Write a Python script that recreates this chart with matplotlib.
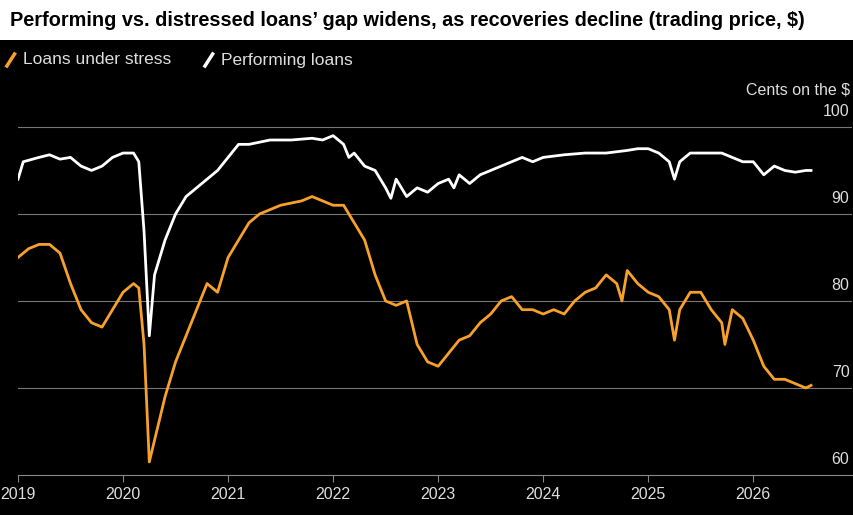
import matplotlib.pyplot as plt
from matplotlib.lines import Line2D

plt.rcParams["font.family"] = ["Liberation Sans", "DejaVu Sans"]

ORANGE = "#f7a12b"

stress_t = [2019.0, 2019.1, 2019.2, 2019.3, 2019.4, 2019.5, 2019.6, 2019.7, 2019.8, 2019.9,
            2020.0, 2020.1, 2020.15, 2020.2, 2020.25, 2020.3, 2020.4, 2020.5, 2020.6, 2020.7,
            2020.8, 2020.9, 2021.0, 2021.1, 2021.2, 2021.3, 2021.5, 2021.7, 2021.8, 2021.9,
            2022.0, 2022.1, 2022.2, 2022.3, 2022.4, 2022.5, 2022.6, 2022.7, 2022.8, 2022.9,
            2023.0, 2023.1, 2023.2, 2023.3, 2023.4, 2023.5, 2023.6, 2023.7, 2023.8, 2023.9,
            2024.0, 2024.1, 2024.2, 2024.3, 2024.4, 2024.5, 2024.6, 2024.7, 2024.75, 2024.8,
            2024.9, 2025.0, 2025.1, 2025.2, 2025.25, 2025.3, 2025.4, 2025.5, 2025.6, 2025.7,
            2025.73, 2025.8, 2025.9, 2026.0, 2026.1, 2026.2, 2026.3, 2026.4, 2026.5, 2026.55]
stress_v = [85, 86, 86.5, 86.5, 85.5, 82, 79, 77.5, 77, 79,
            81, 82, 81.5, 75, 61.5, 64, 69, 73, 76, 79,
            82, 81, 85, 87, 89, 90, 91, 91.5, 92, 91.5,
            91, 91, 89, 87, 83, 80, 79.5, 80, 75, 73,
            72.5, 74, 75.5, 76, 77.5, 78.5, 80, 80.5, 79, 79,
            78.5, 79, 78.5, 80, 81, 81.5, 83, 82, 80, 83.5,
            82, 81, 80.5, 79, 75.5, 79, 81, 81, 79, 77.5,
            75, 79, 78, 75.5, 72.5, 71, 71, 70.5, 70, 70.3]

perf_t = [2019.0, 2019.05, 2019.2, 2019.3, 2019.4, 2019.5, 2019.6, 2019.7, 2019.8, 2019.9,
          2020.0, 2020.1, 2020.15, 2020.2, 2020.25, 2020.3, 2020.4, 2020.5, 2020.6, 2020.7,
          2020.8, 2020.9, 2021.0, 2021.1, 2021.2, 2021.4, 2021.6, 2021.8, 2021.9, 2022.0,
          2022.1, 2022.15, 2022.2, 2022.3, 2022.4, 2022.5, 2022.55, 2022.6, 2022.7, 2022.8,
          2022.9, 2023.0, 2023.1, 2023.15, 2023.2, 2023.3, 2023.4, 2023.5, 2023.6, 2023.7,
          2023.8, 2023.9, 2024.0, 2024.2, 2024.4, 2024.6, 2024.8, 2024.9, 2025.0, 2025.1,
          2025.2, 2025.25, 2025.3, 2025.4, 2025.5, 2025.7, 2025.8, 2025.9, 2026.0, 2026.1,
          2026.2, 2026.3, 2026.4, 2026.5, 2026.55]
perf_v = [94, 96, 96.5, 96.8, 96.3, 96.5, 95.5, 95, 95.5, 96.5,
          97, 97, 96, 88, 76, 83, 87, 90, 92, 93,
          94, 95, 96.5, 98, 98, 98.5, 98.5, 98.7, 98.5, 99,
          98, 96.5, 97, 95.5, 95, 93, 91.8, 94, 92, 93,
          92.5, 93.5, 94, 93, 94.5, 93.5, 94.5, 95, 95.5, 96,
          96.5, 96, 96.5, 96.8, 97, 97, 97.3, 97.5, 97.5, 97,
          96, 94, 96, 97, 97, 97, 96.5, 96, 96, 94.5,
          95.5, 95, 94.8, 95, 95]

years = [2019, 2020, 2021, 2022, 2023, 2024, 2025, 2026]
y_levels = [60, 70, 80, 90, 100]

fig = plt.figure(figsize=(8.54, 5.15), dpi=100, facecolor="black")
fig.patches.append(plt.Rectangle((0, 1 - 40 / 515), 1, 40 / 515, transform=fig.transFigure,
                                 facecolor="white", zorder=0))
fig.text(0.012, 1 - 20 / 515,
         "Performing vs. distressed loans\u2019 gap widens, as recoveries decline (trading price, $)",
         fontsize=14.3, fontweight="bold", color="black", va="center")

# legend
for x0, col, lab in [(0.008, ORANGE, "Loans under stress"), (0.24, "white", "Performing loans")]:
    fig.add_artist(Line2D([x0, x0 + 0.009], [1 - 66 / 515, 1 - 54 / 515], color=col, lw=2.5,
                          transform=fig.transFigure))
    fig.text(x0 + 0.019, 1 - 60 / 515, lab, color="#dddddd", fontsize=12.5, va="center")

ax = fig.add_axes([18 / 854, 1 - 475 / 515, 834 / 854, (475 - 122.6) / 515])
ax.set_facecolor("black")
ax.set_xlim(2019, 2026.94)
ax.set_ylim(60, 100.5)

for v in y_levels:
    if v > 60:
        ax.axhline(v, color="#777777", lw=0.8, zorder=1)
    ax.text(0.997, v + 0.9, str(v), transform=ax.get_yaxis_transform(), ha="right",
            va="bottom", color="#dddddd", fontsize=11.5)
fig.text(0.995, 1 - 90 / 515, "Cents on the $", ha="right", va="center", color="#dddddd", fontsize=11.5)

ax.plot(stress_t, stress_v, color=ORANGE, lw=2, zorder=3)
ax.plot(perf_t, perf_v, color="white", lw=2, zorder=3)

for s in ["top", "right", "left"]:
    ax.spines[s].set_visible(False)
ax.spines["bottom"].set_color("#888888")
ax.set_yticks([])
ax.set_xticks(years)
ax.set_xticklabels([str(y) for y in years], color="#dddddd", fontsize=11.5)
ax.tick_params(axis="x", colors="#888888", labelcolor="#dddddd", length=5)

fig.savefig("out.png", dpi=100, facecolor="black")
